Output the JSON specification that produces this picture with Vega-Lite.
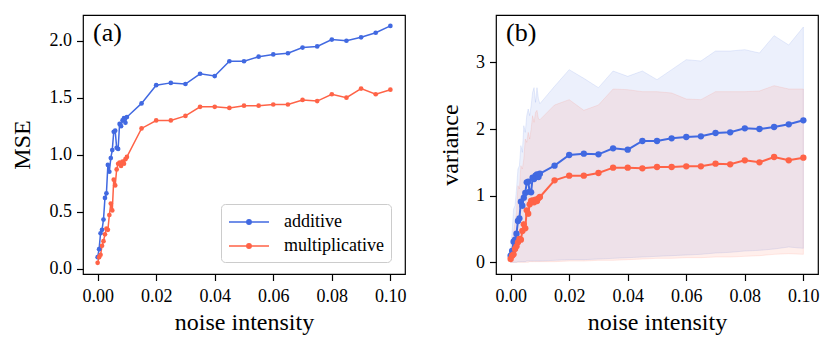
{
  "$schema": "https://vega.github.io/schema/vega-lite/v6.json",
  "padding": {"left": 9, "top": 14, "right": 5, "bottom": 5},
  "background": "white",
  "spacing": 91,
  "bounds": "flush",
  "config": {
    "font": "Liberation Serif",
    "view": {"stroke": "black", "strokeWidth": 1.2},
    "axis": {"domain": false, "grid": false, "ticks": true, "tickColor": "black", "tickSize": 6.5, "tickWidth": 1.2,
      "labelFont": "Liberation Serif", "labelFontSize": 18, "labelColor": "black", "labelPadding": 5,
      "titleFont": "Liberation Serif", "titleFontSize": 24, "titleFontWeight": "normal", "titleColor": "black", "titlePadding": 6},
    "axisX": {"labelPadding": 7, "titlePadding": 5}
  },
  "data": {"values": [
    {"x": 0.0000, "series": "additive", "mse": 0.10, "lo": 0.00, "hi": 0.21},
    {"x": 0.0005, "series": "additive", "mse": 0.17, "lo": 0.00, "hi": 0.45},
    {"x": 0.0010, "series": "additive", "mse": 0.31, "lo": 0.00, "hi": 0.80},
    {"x": 0.0015, "series": "additive", "mse": 0.34, "lo": 0.00, "hi": 0.85},
    {"x": 0.0020, "series": "additive", "mse": 0.43, "lo": 0.00, "hi": 1.10},
    {"x": 0.0025, "series": "additive", "mse": 0.62, "lo": 0.01, "hi": 1.40},
    {"x": 0.0030, "series": "additive", "mse": 0.66, "lo": 0.01, "hi": 1.45},
    {"x": 0.0035, "series": "additive", "mse": 0.91, "lo": 0.01, "hi": 1.75},
    {"x": 0.0040, "series": "additive", "mse": 0.85, "lo": 0.01, "hi": 1.65},
    {"x": 0.0045, "series": "additive", "mse": 0.97, "lo": 0.01, "hi": 2.05},
    {"x": 0.0050, "series": "additive", "mse": 1.04, "lo": 0.01, "hi": 1.95},
    {"x": 0.0055, "series": "additive", "mse": 1.20, "lo": 0.02, "hi": 2.20},
    {"x": 0.0060, "series": "additive", "mse": 1.21, "lo": 0.02, "hi": 2.30},
    {"x": 0.0065, "series": "additive", "mse": 1.06, "lo": 0.02, "hi": 2.20},
    {"x": 0.0070, "series": "additive", "mse": 1.05, "lo": 0.02, "hi": 2.35},
    {"x": 0.0075, "series": "additive", "mse": 1.27, "lo": 0.02, "hi": 2.55},
    {"x": 0.0080, "series": "additive", "mse": 1.25, "lo": 0.02, "hi": 2.62},
    {"x": 0.0085, "series": "additive", "mse": 1.30, "lo": 0.02, "hi": 2.40},
    {"x": 0.0090, "series": "additive", "mse": 1.32, "lo": 0.02, "hi": 2.62},
    {"x": 0.0095, "series": "additive", "mse": 1.28, "lo": 0.02, "hi": 2.45},
    {"x": 0.0100, "series": "additive", "mse": 1.33, "lo": 0.02, "hi": 2.38},
    {"x": 0.015, "series": "additive", "mse": 1.45, "lo": 0.03, "hi": 2.64},
    {"x": 0.020, "series": "additive", "mse": 1.61, "lo": 0.04, "hi": 2.89},
    {"x": 0.025, "series": "additive", "mse": 1.63, "lo": 0.04, "hi": 2.76},
    {"x": 0.030, "series": "additive", "mse": 1.62, "lo": 0.05, "hi": 2.62},
    {"x": 0.035, "series": "additive", "mse": 1.71, "lo": 0.06, "hi": 2.87},
    {"x": 0.040, "series": "additive", "mse": 1.69, "lo": 0.07, "hi": 2.79},
    {"x": 0.045, "series": "additive", "mse": 1.82, "lo": 0.08, "hi": 2.87},
    {"x": 0.050, "series": "additive", "mse": 1.82, "lo": 0.09, "hi": 2.74},
    {"x": 0.055, "series": "additive", "mse": 1.86, "lo": 0.10, "hi": 2.89},
    {"x": 0.060, "series": "additive", "mse": 1.88, "lo": 0.11, "hi": 3.04},
    {"x": 0.065, "series": "additive", "mse": 1.89, "lo": 0.12, "hi": 3.02},
    {"x": 0.070, "series": "additive", "mse": 1.94, "lo": 0.14, "hi": 3.17},
    {"x": 0.075, "series": "additive", "mse": 1.95, "lo": 0.15, "hi": 3.17},
    {"x": 0.080, "series": "additive", "mse": 2.01, "lo": 0.17, "hi": 3.19},
    {"x": 0.085, "series": "additive", "mse": 2.00, "lo": 0.18, "hi": 3.14},
    {"x": 0.090, "series": "additive", "mse": 2.03, "lo": 0.20, "hi": 3.40},
    {"x": 0.095, "series": "additive", "mse": 2.07, "lo": 0.23, "hi": 3.26},
    {"x": 0.100, "series": "additive", "mse": 2.13, "lo": 0.21, "hi": 3.53},
    {"x": 0.0000, "series": "multiplicative", "mse": 0.05, "lo": 0.00, "hi": 0.12},
    {"x": 0.0005, "series": "multiplicative", "mse": 0.10, "lo": 0.00, "hi": 0.25},
    {"x": 0.0010, "series": "multiplicative", "mse": 0.12, "lo": 0.00, "hi": 0.45},
    {"x": 0.0015, "series": "multiplicative", "mse": 0.20, "lo": 0.00, "hi": 0.60},
    {"x": 0.0020, "series": "multiplicative", "mse": 0.24, "lo": 0.00, "hi": 0.75},
    {"x": 0.0025, "series": "multiplicative", "mse": 0.30, "lo": 0.00, "hi": 1.15},
    {"x": 0.0030, "series": "multiplicative", "mse": 0.35, "lo": 0.00, "hi": 1.10},
    {"x": 0.0035, "series": "multiplicative", "mse": 0.34, "lo": 0.00, "hi": 1.45},
    {"x": 0.0040, "series": "multiplicative", "mse": 0.47, "lo": 0.00, "hi": 1.40},
    {"x": 0.0045, "series": "multiplicative", "mse": 0.57, "lo": 0.00, "hi": 1.55},
    {"x": 0.0050, "series": "multiplicative", "mse": 0.51, "lo": 0.00, "hi": 1.85},
    {"x": 0.0055, "series": "multiplicative", "mse": 0.78, "lo": 0.00, "hi": 1.80},
    {"x": 0.0060, "series": "multiplicative", "mse": 0.73, "lo": 0.00, "hi": 1.95},
    {"x": 0.0065, "series": "multiplicative", "mse": 0.87, "lo": 0.01, "hi": 1.85},
    {"x": 0.0070, "series": "multiplicative", "mse": 0.92, "lo": 0.01, "hi": 2.00},
    {"x": 0.0075, "series": "multiplicative", "mse": 0.93, "lo": 0.01, "hi": 2.20},
    {"x": 0.0080, "series": "multiplicative", "mse": 0.90, "lo": 0.01, "hi": 2.10},
    {"x": 0.0085, "series": "multiplicative", "mse": 0.94, "lo": 0.01, "hi": 2.25},
    {"x": 0.0090, "series": "multiplicative", "mse": 0.92, "lo": 0.01, "hi": 2.28},
    {"x": 0.0095, "series": "multiplicative", "mse": 0.96, "lo": 0.01, "hi": 2.15},
    {"x": 0.0100, "series": "multiplicative", "mse": 0.98, "lo": 0.01, "hi": 2.14},
    {"x": 0.015, "series": "multiplicative", "mse": 1.23, "lo": 0.01, "hi": 2.36},
    {"x": 0.020, "series": "multiplicative", "mse": 1.30, "lo": 0.02, "hi": 2.44},
    {"x": 0.025, "series": "multiplicative", "mse": 1.30, "lo": 0.02, "hi": 2.28},
    {"x": 0.030, "series": "multiplicative", "mse": 1.34, "lo": 0.03, "hi": 2.36},
    {"x": 0.035, "series": "multiplicative", "mse": 1.42, "lo": 0.03, "hi": 2.60},
    {"x": 0.040, "series": "multiplicative", "mse": 1.42, "lo": 0.04, "hi": 2.59},
    {"x": 0.045, "series": "multiplicative", "mse": 1.41, "lo": 0.05, "hi": 2.56},
    {"x": 0.050, "series": "multiplicative", "mse": 1.43, "lo": 0.06, "hi": 2.56},
    {"x": 0.055, "series": "multiplicative", "mse": 1.43, "lo": 0.06, "hi": 2.54},
    {"x": 0.060, "series": "multiplicative", "mse": 1.44, "lo": 0.07, "hi": 2.45},
    {"x": 0.065, "series": "multiplicative", "mse": 1.44, "lo": 0.07, "hi": 2.44},
    {"x": 0.070, "series": "multiplicative", "mse": 1.48, "lo": 0.08, "hi": 2.56},
    {"x": 0.075, "series": "multiplicative", "mse": 1.47, "lo": 0.08, "hi": 2.56},
    {"x": 0.080, "series": "multiplicative", "mse": 1.53, "lo": 0.09, "hi": 2.56},
    {"x": 0.085, "series": "multiplicative", "mse": 1.50, "lo": 0.10, "hi": 2.57},
    {"x": 0.090, "series": "multiplicative", "mse": 1.58, "lo": 0.12, "hi": 2.65},
    {"x": 0.095, "series": "multiplicative", "mse": 1.53, "lo": 0.13, "hi": 2.60},
    {"x": 0.100, "series": "multiplicative", "mse": 1.57, "lo": 0.12, "hi": 2.60}
  ]},
  "resolve": {"scale": {"color": "independent", "fill": "independent", "stroke": "independent"}, "legend": {"color": "independent"}},
  "hconcat": [
    {
      "width": 322, "height": 259,
      "title": {"text": "(a)", "anchor": "start", "orient": "top", "frame": "group", "offset": 0, "dx": 10, "dy": 31, "fontSize": 26, "fontWeight": "normal", "font": "Liberation Serif", "color": "black"},
      "mark": {"type": "line", "strokeWidth": 1.5, "point": {"filled": true, "size": 22}},
      "encoding": {
        "x": {"field": "x", "type": "quantitative", "scale": {"domain": [-0.005, 0.105], "nice": false, "zero": false},
          "axis": {"values": [0, 0.02, 0.04, 0.06, 0.08, 0.1], "format": ".2f", "title": "noise intensity"}},
        "y": {"field": "mse", "type": "quantitative", "scale": {"domain": [-0.048, 2.226], "nice": false, "zero": false},
          "axis": {"values": [0, 0.5, 1, 1.5, 2], "format": ".1f", "title": "MSE", "titlePadding": 15}},
        "color": {"field": "series", "type": "nominal", "scale": {"domain": ["additive", "multiplicative"], "range": ["#4169E1", "#FF6347"]},
          "legend": {"title": null, "orient": "none", "legendX": 138, "legendY": 189,
            "symbolType": "M-2,0H2M0.22,0A0.22,0.22,0,1,1,-0.22,0A0.22,0.22,0,1,1,0.22,0Z",
            "symbolSize": 400, "symbolStrokeWidth": 1.5, "symbolOffset": 10, "labelOffset": 24,
            "labelFont": "Liberation Serif", "labelFontSize": 18, "labelColor": "black", "labelLimit": 300,
            "rowPadding": 4, "padding": 7, "fillColor": "rgba(255,255,255,0.8)", "strokeColor": "#cccccc", "cornerRadius": 4,
            "encode": {"symbols": {"update": {
              "fill": [{"test": "datum.value === 'additive'", "value": "#4169E1"}, {"value": "#FF6347"}],
              "stroke": [{"test": "datum.value === 'additive'", "value": "#4169E1"}, {"value": "#FF6347"}],
              "opacity": {"value": 1}}}}}}
      }
    },
    {
      "width": 322, "height": 259,
      "title": {"text": "(b)", "anchor": "start", "orient": "top", "frame": "group", "offset": 0, "dx": 10, "dy": 31, "fontSize": 26, "fontWeight": "normal", "font": "Liberation Serif", "color": "black"},
      "layer": [
        {
          "mark": {"type": "area", "fillOpacity": 0.1, "strokeOpacity": 0.12, "strokeWidth": 1},
          "encoding": {
            "x": {"field": "x", "type": "quantitative", "scale": {"domain": [-0.005, 0.105], "nice": false, "zero": false},
              "axis": {"values": [0, 0.02, 0.04, 0.06, 0.08, 0.1], "format": ".2f", "title": "noise intensity"}},
            "y": {"field": "lo", "type": "quantitative", "scale": {"domain": [-0.175, 3.71], "nice": false, "zero": false},
              "axis": {"values": [0, 1, 2, 3], "format": "d", "title": "variance", "titlePadding": 13}},
            "y2": {"field": "hi"},
            "fill": {"field": "series", "type": "nominal", "scale": {"domain": ["additive", "multiplicative"], "range": ["#4169E1", "#FF6347"]}, "legend": null},
            "stroke": {"field": "series", "type": "nominal", "scale": {"domain": ["additive", "multiplicative"], "range": ["#4169E1", "#FF6347"]}, "legend": null}
          }
        },
        {
          "mark": {"type": "line", "strokeWidth": 2, "point": {"filled": true, "size": 40}},
          "encoding": {
            "x": {"field": "x", "type": "quantitative"},
            "y": {"field": "mse", "type": "quantitative", "axis": {"values": [0, 1, 2, 3], "format": "d", "title": "variance", "titlePadding": 13}},
            "color": {"field": "series", "type": "nominal", "scale": {"domain": ["additive", "multiplicative"], "range": ["#4169E1", "#FF6347"]}, "legend": null}
          }
        }
      ]
    }
  ]
}
